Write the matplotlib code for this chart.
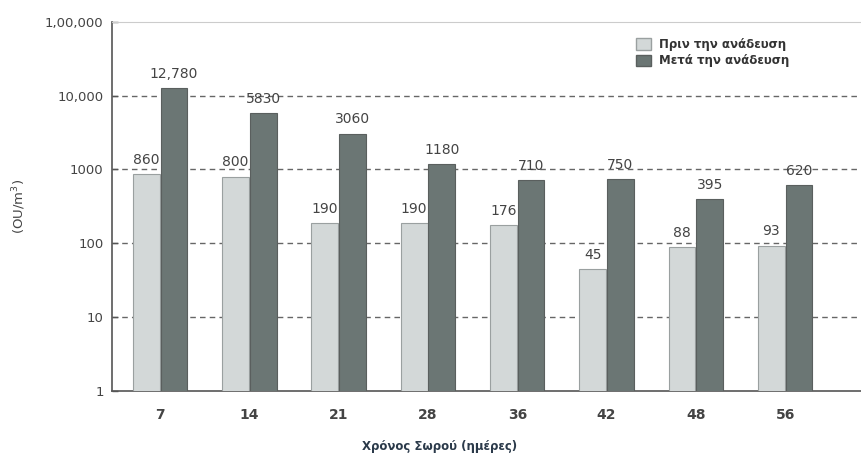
import numpy as np
import matplotlib
matplotlib.use("Agg")
import matplotlib.pyplot as plt
from matplotlib.patches import Patch

# ── Data ─────────────────────────────────────────────────────────────────────
days = ["7", "14", "21", "28", "36", "42", "48", "56"]
before = [860, 800, 190, 190, 176, 45, 88, 93]
after = [12780, 5830, 3060, 1180, 710, 750, 395, 620]
before_labels = ["860", "800", "190", "190", "176", "45", "88", "93"]
after_labels = ["12,780", "5830", "3060", "1180", "710", "750", "395", "620"]
yticks = [1, 10, 100, 1000, 10000, 100000]
ytick_labels = ["1", "10", "100", "1000", "10,000", "1,00,000"]

LIGHT = "#d3d8d8"
DARK = "#6b7674"
EDGE = "#5a5f5e"
TXT = "#444444"

fig = plt.figure(figsize=(8.61, 4.54), dpi=100)
ax = fig.add_axes([0.130, 0.139, 0.870, 0.813])

x = np.arange(len(days))
w = 0.30
off = 0.155
ax.bar(x - off, before, width=w, color=LIGHT, edgecolor="#9aa0a0", linewidth=0.8, zorder=3)
ax.bar(x + off, after, width=w, color=DARK, edgecolor=EDGE, linewidth=0.8, zorder=3)

for xi, v, s in zip(x, before, before_labels):
    ax.text(xi - off, v * 1.25, s, ha="center", va="bottom", fontsize=10, color=TXT)
for xi, v, s in zip(x, after, after_labels):
    ax.text(xi + off, v * 1.25, s, ha="center", va="bottom", fontsize=10, color=TXT)

ax.set_yscale("log")
ax.set_ylim(1, 100000)
ax.set_xlim(-0.54, 7.85)
ax.set_yticks(yticks)
ax.set_yticklabels(ytick_labels, fontsize=9.5, color=TXT)
ax.minorticks_off()
ax.set_xticks(x)
ax.set_xticklabels(days, fontsize=10, color=TXT, fontweight="bold")
ax.tick_params(axis="x", length=0, pad=12)
ax.tick_params(axis="y", length=4, width=1, color="#555555", pad=6, direction="in")

for yv in [10, 100, 1000, 10000]:
    ax.axhline(yv, color="#666666", linestyle=(0, (4, 3)), linewidth=1.0, zorder=1)

ax.spines["top"].set_color("#cccccc")
ax.spines["top"].set_linewidth(0.8)
ax.spines["right"].set_visible(False)
ax.spines["left"].set_color("#555555")
ax.spines["left"].set_linewidth(1.2)
ax.spines["bottom"].set_color("#555555")
ax.spines["bottom"].set_linewidth(1.2)

ax.set_ylabel("(OU/m$^3$)", fontsize=9.5, color=TXT, labelpad=12)
fig.text(0.511, 0.003, "Χρόνος Σωρού (ημέρες)", ha="center", va="bottom",
         fontsize=8.5, fontweight="bold", color="#2b3a4a")

handles = [Patch(facecolor=LIGHT, edgecolor="#9aa0a0", label="Πριν την ανάδευση"),
           Patch(facecolor=DARK, edgecolor=EDGE, label="Μετά την ανάδευση")]
leg = ax.legend(handles=handles, loc="upper left", bbox_to_anchor=(0.685, 0.985),
                frameon=False, fontsize=8.5, handlelength=1.3, handleheight=1.1,
                labelspacing=0.3, handletextpad=0.7)
for t in leg.get_texts():
    t.set_fontweight("bold")
    t.set_color("#333333")

fig.savefig("out.png", dpi=100)
